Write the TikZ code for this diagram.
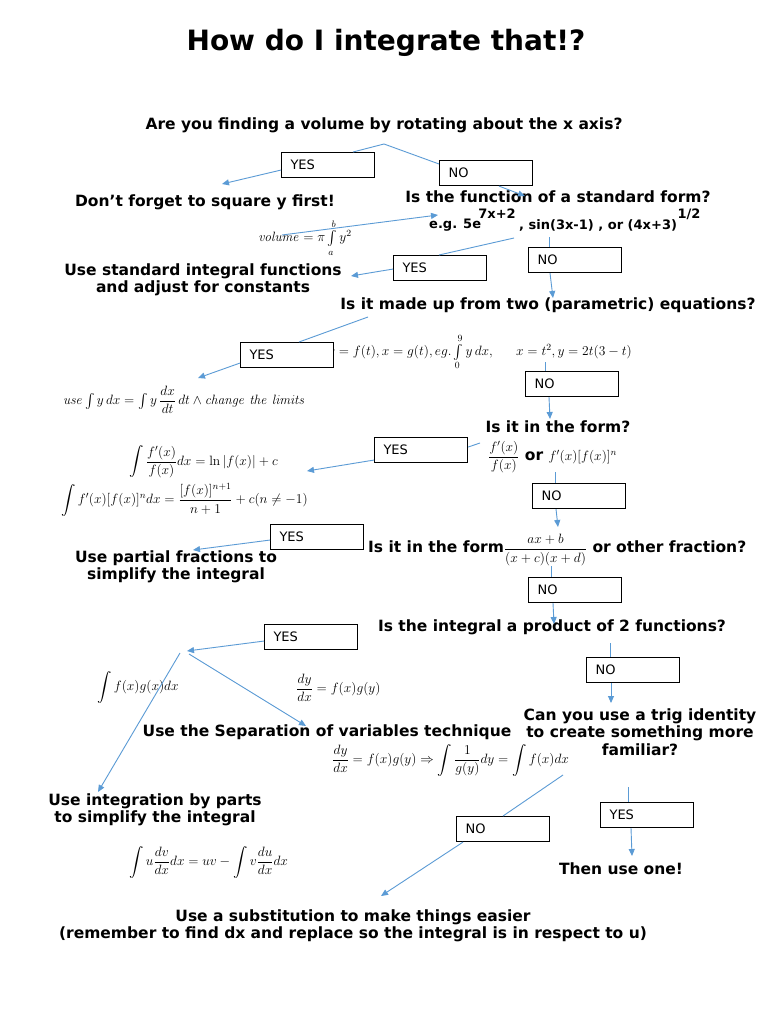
\RequirePackage{fix-cm}
\documentclass[tikz,border=0pt]{standalone}
\usepackage{amsmath}
\usepackage[no-math]{fontspec}
\setmainfont{DejaVu Sans}
\usetikzlibrary{arrows.meta}
\definecolor{connblue}{HTML}{5B9BD5}
\begin{document}
\begin{tikzpicture}[x=1pt,y=-1pt,
  q/.style={font=\fontsize{15.5}{17.5}\selectfont\bfseries, align=center, inner sep=0pt},
  ql/.style={q, anchor=west},
  box/.style={draw=black, line width=1.1pt, fill=white, anchor=north west, minimum width=93pt, minimum height=25pt, inner xsep=9pt, inner ysep=0pt, text width=75pt, align=left, font=\fontsize{13}{15}\selectfont},
  m/.style={inner sep=0pt, anchor=west, font=\fontsize{13.5}{15}\selectfont},
  ln/.style={draw=connblue, line width=0.9pt},
  ar/.style={ln, -{Triangle[length=7pt,width=6pt]}}]
\fill[white] (0,0) rectangle (768,1024);
\useasboundingbox (0,0) rectangle (768,1024);

% title and texts
\node[font=\fontsize{28}{32}\selectfont\bfseries, inner sep=0pt] (title) at (386,43) {How do I integrate that!?};
\node[q] (q1) at (384,125) {Are you finding a volume by rotating about the x axis?};
\node[q] (t1) at (205,202) {Don’t forget to square y first!};
\node[q] (q2) at (558,197) {Is the function of a standard form?};
\node[ql, font=\fontsize{13}{15}\selectfont\bfseries] (eg1) at (429,225) {e.g. 5e};
\node[q, font=\fontsize{13}{15}\selectfont\bfseries] (sup1) at (497,214) {7x+2};
\node[ql, font=\fontsize{13}{15}\selectfont\bfseries] (eg2) at (519,225) {, sin(3x-1) , or (4x+3)};
\node[q, font=\fontsize{13}{15}\selectfont\bfseries] (sup2) at (689,214) {1/2};
\node[m, anchor=center] (vol) at (305,238) {$\mathit{volume}=\pi\int\limits_a^b y^2$};
\node[q] (t2) at (203,280) {Use standard integral functions\\and adjust for constants};
\node[q] (q3) at (548,305) {Is it made up from two (parametric) equations?};
\node[m] (pf1) at (328,352) {$y=f(t),x=g(t),eg.\int\limits_0^9 y\,dx,$};
\node[m] (pf2) at (516,352) {$x=t^2,y=2t(3-t)$};
\node[m] (t3) at (63,400) {$\mathit{use}\int y\,dx=\int y\,\dfrac{dx}{dt}\,dt\wedge\mathit{change}\ \mathit{the}\ \mathit{limits}$};
\node[q] (q4) at (558,427) {Is it in the form?};
\node[ql] (f4) at (488,457) {{\fontsize{13.5}{15}\selectfont$\dfrac{f'(x)}{f(x)}$} or {\fontsize{13.5}{15}\selectfont$f'(x)[f(x)]^n$}};
\node[m] (m4a) at (129,462) {$\displaystyle\int\frac{f'(x)}{f(x)}dx=\ln|f(x)|+c$};
\node[m] (m4b) at (61,500) {$\displaystyle\int f'(x)[f(x)]^n dx=\frac{[f(x)]^{n+1}}{n+1}+c(n\neq-1)$};
\node[q] (t5) at (176,567) {Use partial fractions to\\simplify the integral};
\node[ql] (q5) at (368,550) {Is it in the form{\fontsize{13.5}{15}\selectfont$\dfrac{ax+b}{(x+c)(x+d)}$} or other fraction?};
\node[q] (q6) at (552,627) {Is the integral a product of 2 functions?};
\node[m] (m6a) at (97,687) {$\displaystyle\int f(x)g(x)dx$};
\node[m] (m6b) at (296,688) {$\dfrac{dy}{dx}=f(x)g(y)$};
\node[q] (q7) at (640,732) {Can you use a trig identity\\to create something more\\familiar?};
\node[q] (t6) at (327,732) {Use the Separation of variables technique};
\node[m] (m6c) at (332,760) {$\dfrac{dy}{dx}=f(x)g(y)\Rightarrow\displaystyle\int\frac{1}{g(y)}dy=\int f(x)dx$};
\node[q] (t7) at (155,810) {Use integration by parts\\to simplify the integral};
\node[m] (m7) at (129,862) {$\displaystyle\int u\frac{dv}{dx}dx=uv-\int v\frac{du}{dx}dx$};
\node[q] (t8) at (621,869) {Then use one!};
\node[q] (t9) at (353,926) {Use a substitution to make things easier\\(remember to find dx and replace so the integral is in respect to u)};

% boxes
\node[box] (yes1) at (281,152) {YES};
\node[box] (no1) at (439,160) {NO};
\node[box] (yes2) at (393,255) {YES};
\node[box] (no2) at (528,247) {NO};
\node[box] (yes3) at (240,342) {YES};
\node[box] (no3) at (525,371) {NO};
\node[box] (yes4) at (374,437) {YES};
\node[box] (no4) at (532,483) {NO};
\node[box] (yes5) at (270,524) {YES};
\node[box] (no5) at (528,577) {NO};
\node[box] (yes6) at (264,624) {YES};
\node[box] (no6) at (586,657) {NO};
\node[box] (yes7) at (600,802) {YES};
\node[box] (no7) at (456,816) {NO};

% free ends
\coordinate (a1) at (384,144);
\coordinate (e1) at (222,184);
\coordinate (e2) at (525,196);
\coordinate (v1) at (282,235);
\coordinate (e3) at (438,215);
\coordinate (s2) at (514,238);
\coordinate (e4) at (351,276);
\coordinate (s2n) at (549,237);
\coordinate (e5) at (553,298);
\coordinate (s3) at (368,317);
\coordinate (e6) at (198,378);
\coordinate (s3n) at (545,362);
\coordinate (e7) at (550,419);
\coordinate (s4) at (480,443);
\coordinate (e8) at (307,471);
\coordinate (s4n) at (555,472);
\coordinate (e9) at (558,527);
\coordinate (e10) at (193,550);
\coordinate (s5n) at (551,566);
\coordinate (e11) at (554,624);
\coordinate (e12) at (187,651);
\coordinate (b1) at (180,653);
\coordinate (b2) at (189,654);
\coordinate (e13) at (98,792);
\coordinate (e14) at (306,726);
\coordinate (s6n) at (610,643);
\coordinate (e15) at (611,703);
\coordinate (s7) at (563,775);
\coordinate (e16) at (381,896);
\coordinate (s7y) at (628,787);
\coordinate (e17) at (632,856);

% connectors
\draw[ln] (a1) -- ([xshift=72pt]yes1.north west);
\draw[ln] (a1) -- ([yshift=-4pt]no1.north west);
\draw[ar] ([yshift=-5pt]yes1.west) -- (e1);
\draw[ar] ([xshift=60pt]no1.south west) -- (e2);
\draw[ar] (v1) -- (e3);
\draw[ln] (s2) -- ([xshift=46pt]yes2.north west);
\draw[ar] ([yshift=-1pt]yes2.west) -- (e4);
\draw[ln] (s2n) -- ([xshift=21pt]no2.north west);
\draw[ar] ([xshift=22pt]no2.south west) -- (e5);
\draw[ln] (s3) -- ([xshift=59pt]yes3.north west);
\draw[ar] ([yshift=-8pt]yes3.west) -- (e6);
\draw[ln] (s3n) -- ([xshift=20pt]no3.north west);
\draw[ar] ([xshift=24pt]no3.south west) -- (e7);
\draw[ln] (s4) -- ([yshift=3pt]yes4.east);
\draw[ar] ([yshift=-10pt]yes4.west) -- (e8);
\draw[ln] (s4n) -- ([xshift=23pt]no4.north west);
\draw[ar] ([xshift=24pt]no4.south west) -- (e9);
\draw[ar] ([yshift=-3pt]yes5.west) -- (e10);
\draw[ln] (s5n) -- ([xshift=23pt]no5.north west);
\draw[ar] ([xshift=25pt]no5.south west) -- (e11);
\draw[ar] ([yshift=-4pt]yes6.west) -- (e12);
\draw[ar] (b1) -- (e13);
\draw[ar] (b2) -- (e14);
\draw[ln] (s6n) -- ([xshift=24pt]no6.north west);
\draw[ar] ([xshift=25pt]no6.south west) -- (e15);
\draw[ln] (s7) -- ([xshift=47pt]no7.north west);
\draw[ar] ([xshift=7pt]no7.south west) -- (e16);
\draw[ln] (s7y) -- ([xshift=28pt]yes7.north west);
\draw[ar] ([xshift=31pt]yes7.south west) -- (e17);
\end{tikzpicture}
\end{document}
